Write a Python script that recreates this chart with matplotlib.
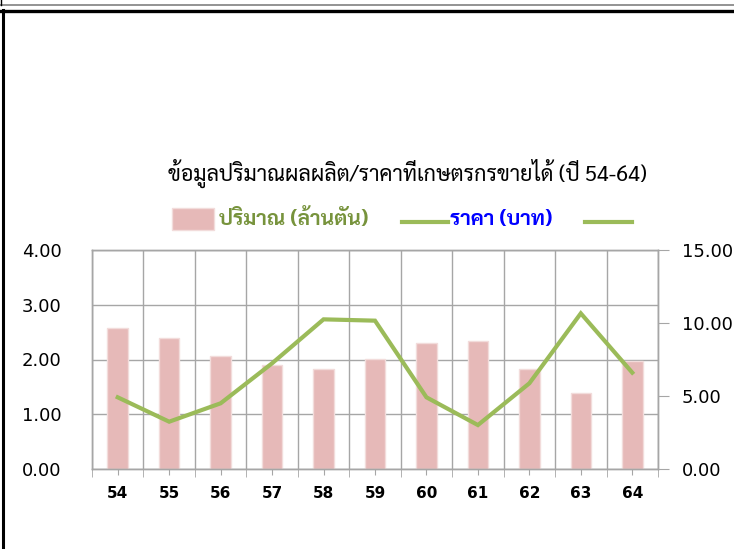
import matplotlib
matplotlib.use("Agg")
import matplotlib.pyplot as plt
import numpy as np
from matplotlib import font_manager
from matplotlib.lines import Line2D
from matplotlib.patches import Rectangle

years = ["54", "55", "56", "57", "58", "59", "60", "61", "62", "63", "64"]
quantity = [2.58, 2.40, 2.06, 1.90, 1.82, 2.01, 2.31, 2.34, 1.82, 1.38, 1.98]  # ล้านตัน
price = [4.91, 3.24, 4.50, 7.24, 10.25, 10.16, 4.91, 3.01, 5.87, 10.66, 6.60]  # บาท

title = "ข้อมูลปริมาณผลผลิต/ราคาที่เกษตรกรขายได้ (ปี 54-64)"
label_qty = "ปริมาณ (ล้านตัน)"
label_price = "ราคา (บาท)"

# pick a looped Thai font (Tahoma-like) that is installed
names = {f.name for f in font_manager.fontManager.ttflist}
thai = "DejaVu Sans"
for cand in ["Sarabun", "Noto Sans Thai Looped", "Noto Sans Thai", "Anuphan"]:
    if cand in names:
        thai = cand
        break
thai_fam = [thai, "DejaVu Sans"]

bar_col = "#E6B9B8"
line_col = "#9BBB59"
grid_col = "#A6A6A6"

fig = plt.figure(figsize=(7.34, 5.49), dpi=100)
ax = fig.add_axes([92 / 734, 1 - 469 / 549, 566 / 734, 219 / 549])
ax2 = ax.twinx()

x = np.arange(len(years))
ax.bar(x, quantity, 0.4, color=bar_col, edgecolor="#F2DCDB", linewidth=1, zorder=2)
ax2.plot(x, price, color=line_col, linewidth=3, solid_joinstyle="miter", zorder=3)

ax.set_xlim(-0.5, len(years) - 0.5)
ax.set_ylim(0, 4)
ax2.set_ylim(0, 15)

ax.set_yticks(np.arange(0, 4.01, 1))
ax.set_yticklabels(["%.2f" % v for v in np.arange(0, 4.01, 1)], fontsize=13)
ax2.set_yticks(np.arange(0, 15.01, 5))
ax2.set_yticklabels(["%.2f" % v for v in np.arange(0, 15.01, 5)], fontsize=13)

ax.set_xticks(x)
ax.set_xticklabels(years, fontsize=11, fontweight="bold")
ax.set_xticks(np.arange(-0.5, len(years), 1), minor=True)

ax.tick_params(axis="y", length=0, pad=22)
ax.tick_params(axis="x", which="major", length=4, color=grid_col, pad=8)
ax.tick_params(axis="x", which="minor", length=6, color=grid_col)
ax2.tick_params(axis="y", length=8, color=grid_col, pad=9)

ax.grid(True, axis="y", color=grid_col, linewidth=1, zorder=0)
ax.grid(True, axis="x", which="minor", color=grid_col, linewidth=1, zorder=0)
ax.grid(False, axis="x", which="major")
ax.set_axisbelow(True)
for a in (ax, ax2):
    for s in a.spines.values():
        s.set_color(grid_col)
        s.set_linewidth(1)

# title and legend
fig.text(407 / 734, 1 - 173 / 549, title, family=thai_fam, fontsize=15.5,
         ha="center", va="center")
ly = 1 - 219 / 549
fig.add_artist(Rectangle((172 / 734, 1 - 230 / 549), 42 / 734, 22 / 549,
                         transform=fig.transFigure, facecolor=bar_col,
                         edgecolor="#F2DCDB"))
fig.text(219 / 734, ly, label_qty, family=thai_fam, fontsize=15,
         fontweight="bold", color="#77933C", ha="left", va="center")
fig.add_artist(Line2D([402 / 734, 448 / 734], [1 - 222 / 549] * 2,
                      transform=fig.transFigure, color=line_col, linewidth=3))
fig.text(450 / 734, ly, label_price, family=thai_fam, fontsize=15,
         fontweight="bold", color="#0000FF", ha="left", va="center")
fig.add_artist(Line2D([585 / 734, 632 / 734], [1 - 222 / 549] * 2,
                      transform=fig.transFigure, color=line_col, linewidth=3))

# frame lines
fig.add_artist(Line2D([0, 1], [1 - 5 / 549] * 2, transform=fig.transFigure,
                      color="#808080", linewidth=1.2))
fig.add_artist(Line2D([0, 1], [1 - 10.5 / 549] * 2, transform=fig.transFigure,
                      color="black", linewidth=2.4))
fig.add_artist(Line2D([3 / 734] * 2, [0, 1 - 10 / 549], transform=fig.transFigure,
                      color="black", linewidth=2.2))
fig.add_artist(Line2D([1 / 734] * 2, [1 - 5 / 549, 1], transform=fig.transFigure,
                      color="black", linewidth=1))

fig.savefig("out.png", dpi=100)
